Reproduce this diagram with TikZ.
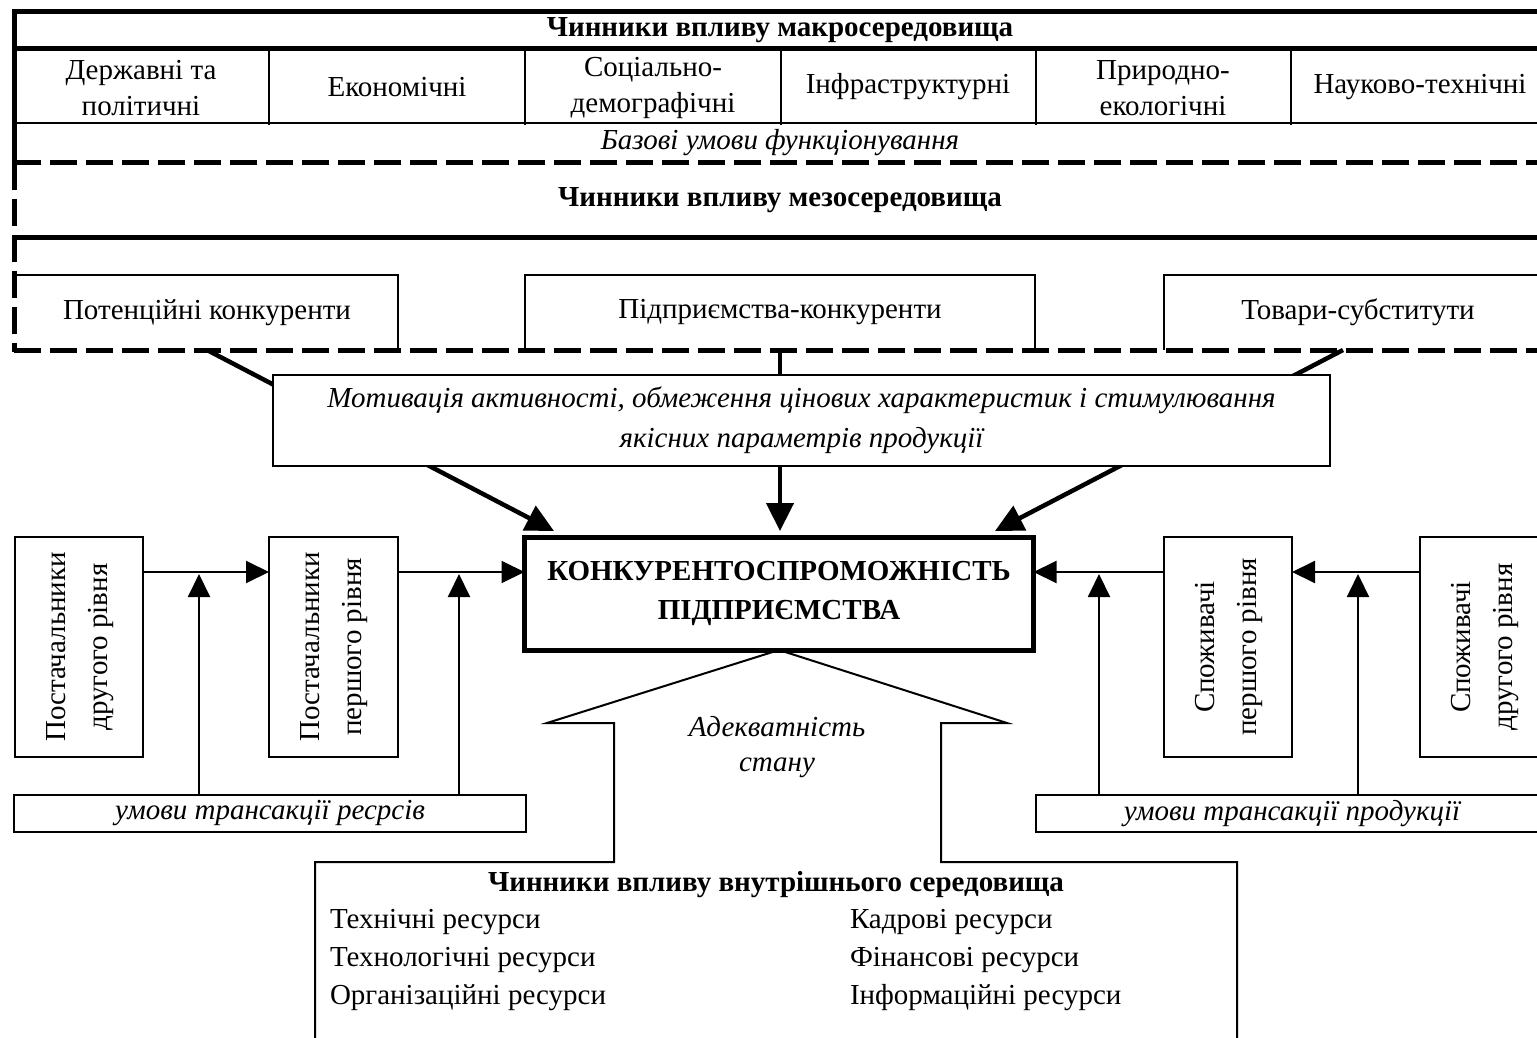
\documentclass[tikz,border=0pt]{standalone}
\usepackage{fontspec}
\setmainfont{Liberation Serif}
\usetikzlibrary{arrows.meta,calc}
\begin{document}
\begin{tikzpicture}[x=1pt,y=-1pt,
  every node/.style={inner sep=0pt,outer sep=0pt,font=\fontsize{29}{36}\selectfont},
  bftext/.style={font=\fontsize{29}{36}\selectfont\bfseries},
  ittext/.style={font=\fontsize{29}{36}\selectfont\itshape},
  thickrule/.style={line width=5pt},
  dashrule/.style={line width=5pt,dash pattern=on 27pt off 9pt},
  thinrule/.style={line width=2.5pt},
  boxline/.style={line width=2.5pt},
  bx/.style={draw,line width=2.5pt},
  bigarrow/.style={line width=4.5pt,-{Triangle[length=28pt,width=27pt]}},
  smallarrow/.style={line width=2pt,-{Triangle[length=23pt,width=22pt]}}
]
\useasboundingbox (0,0) rectangle (1537,1038);
\clip (0,0) rectangle (1537,1038);

% ---- macro / meso frame ----
\draw[thickrule,line join=miter] (14,163) -- (14,12) -- (1545,12);
\draw[thickrule] (14,49) -- (1545,49);
\draw[thinrule] (14,123) -- (1545,123);
\foreach \xx in {269,525,781,1036,1291} \draw[thinrule] (\xx,49) -- (\xx,125);
\draw[dashrule] (14,163) -- (1545,163);
\draw[dashrule] (14,163) -- (14,352);
\draw[thickrule] (14,237) -- (1545,237);
\draw[dashrule] (14,350) -- (1545,350);

\node[bftext] (macro) at (780,30) {Чинники впливу макросередовища};
\node[align=center] (c1) at (141,88) {Державні та\\політичні};
\node (c2) at (397,87) {Економічні};
\node[align=center] (c3) at (653,88) {Соціально-\\демографічні};
\node (c4) at (908,87) {Інфраструктурні};
\node[align=center] (c5) at (1163,88) {Природно-\\екологічні};
\node (c6) at (1420,87) {Науково-технічні};
\node[ittext] (base) at (780,143) {Базові умови функціонування};
\node[bftext] (meso) at (780,200) {Чинники впливу мезосередовища};

% ---- competitor boxes ----
\node[minimum width=382pt,minimum height=75pt] (pot) at (207,312.5) {Потенційні конкуренти};
\draw[boxline] (pot.north west) -- (pot.north east) -- (pot.south east);
\node[minimum width=510pt,minimum height=75pt] (ent) at (780,312.5) {Підприємства-конкуренти};
\draw[boxline] (ent.south west) -- (ent.north west) -- (ent.north east) -- (ent.south east);
\node[minimum width=388pt,minimum height=75pt] (tov) at (1358,312.5) {Товари-субститути};
\draw[boxline] (tov.south west) -- (tov.north west) -- (tov.north east);

% ---- central box ----
\node[draw,line width=5pt,minimum width=509pt,minimum height=113pt,align=center,
      font=\fontsize{29}{39}\selectfont\bfseries] (cen) at (779,593.5)
      {КОНКУРЕНТОСПРОМОЖНІСТЬ\\ПІДПРИЄМСТВА};

% ---- thick arrows ----
\coordinate (tipL) at (554,531);
\coordinate (tipM) at (780,531);
\coordinate (tipR) at (995,531);
\draw[bigarrow] (pot.south) -- (tipL);
\draw[bigarrow] (ent.south) -- (tipM);
\draw[bigarrow] ([xshift=-15pt]tov.south) -- (tipR);

\node[draw,line width=2pt,fill=white,minimum width=1057pt,minimum height=91pt,align=center,
      font=\fontsize{29}{40}\selectfont\itshape] (mot) at (801.5,420.5)
      {Мотивація активності, обмеження цінових характеристик і стимулювання\\якісних параметрів продукції};

% ---- suppliers ----
\node[bx,minimum width=128pt,minimum height=220pt] (s2) at (79,647)
  {\rotatebox{90}{\begin{tabular}{@{}c@{}}Постачальники\\[6pt]другого рівня\end{tabular}}};
\node[bx,minimum width=129pt,minimum height=220pt] (s1) at (333.5,647)
  {\rotatebox{90}{\begin{tabular}{@{}c@{}}Постачальники\\[6pt]першого рівня\end{tabular}}};
\node[bx,minimum width=512pt,minimum height=37pt,ittext] (res) at (270,813.5) {умови трансакції ресрсів};

% ---- consumers ----
\node[bx,minimum width=128pt,minimum height=220pt] (k1) at (1228,647)
  {\rotatebox{90}{\begin{tabular}{@{}c@{}}Споживачі\\[6pt]першого рівня\end{tabular}}};
\node[bx,minimum width=128pt,minimum height=220pt] (k2) at (1484,647)
  {\rotatebox{90}{\begin{tabular}{@{}c@{}}Споживачі\\[6pt]другого рівня\end{tabular}}};
\node[bx,minimum width=512pt,minimum height=37pt,ittext] (prod) at (1292,813.5) {умови трансакції продукції};

\coordinate (hy) at (0,572);
\coordinate (vy) at (0,574);
\draw[smallarrow] (s2.east |- hy) -- (s1.west |- hy);
\draw[smallarrow] (s1.east |- hy) -- (cen.west |- hy);
\draw[smallarrow] (k2.west |- hy) -- (k1.east |- hy);
\draw[smallarrow] (k1.west |- hy) -- (cen.east |- hy);

\coordinate (va) at (199,0);
\coordinate (vb) at (459,0);
\coordinate (vc) at (1099,0);
\coordinate (vd) at (1358,0);
\draw[smallarrow] (res.north -| va) -- (va |- vy);
\draw[smallarrow] (res.north -| vb) -- (vb |- vy);
\draw[smallarrow] (prod.north -| vc) -- (vc |- vy);
\draw[smallarrow] (prod.north -| vd) -- (vd |- vy);

% ---- block arrow + internal environment box ----
\draw[line width=2pt,line join=miter]
  (315,1045) -- (315,862) -- (614,862) -- (614,723) -- (547,723) -- (cen.south)
  -- (1007,723) -- (941,723) -- (941,862) -- (1237,862) -- (1237,1045);
\node[ittext] (adq1) at (777,727) {Адекватність};
\node[ittext] (adq2) at (777,768) {стану};

\node[bftext] (intt) at (776,885) {Чинники впливу внутрішнього середовища};
\node[anchor=west] (r1) at (330,922) {Технічні ресурси};
\node[anchor=west] (r2) at (330,960) {Технологічні ресурси};
\node[anchor=west] (r3) at (330,998) {Організаційні ресурси};
\node[anchor=west] (r4) at (850,922) {Кадрові ресурси};
\node[anchor=west] (r5) at (850,960) {Фінансові ресурси};
\node[anchor=west] (r6) at (850,998) {Інформаційні ресурси};
\end{tikzpicture}
\end{document}
